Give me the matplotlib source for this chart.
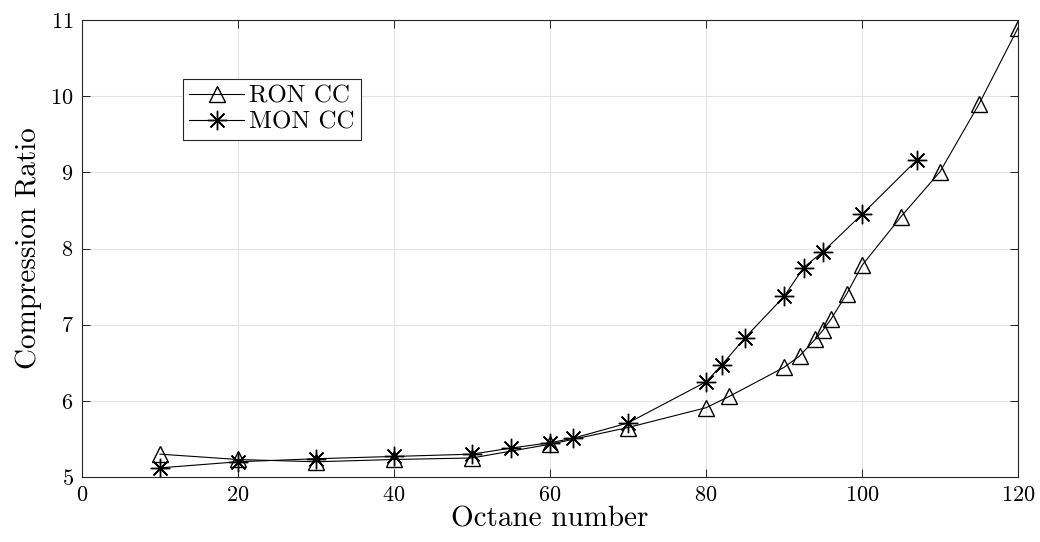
import matplotlib
matplotlib.use('Agg')
import matplotlib.pyplot as plt

plt.rcParams['font.family'] = 'cmr10'
plt.rcParams['mathtext.fontset'] = 'cm'
plt.rcParams['axes.formatter.use_mathtext'] = True

# RON curve
ron_x = [10, 20, 30, 40, 50, 60, 70, 80, 83, 90, 92, 94, 95, 96, 98, 100, 105, 110, 115, 120]
ron_y = [5.30, 5.23, 5.20, 5.23, 5.25, 5.43, 5.65, 5.91, 6.06, 6.44, 6.59, 6.81, 6.93, 7.07, 7.40, 7.78, 8.42, 9.01, 9.90, 10.90]

# MON curve
mon_x = [10, 20, 30, 40, 50, 55, 60, 63, 70, 80, 82, 85, 90, 92.5, 95, 100, 107]
mon_y = [5.12, 5.20, 5.24, 5.27, 5.30, 5.38, 5.45, 5.51, 5.71, 6.25, 6.47, 6.83, 7.37, 7.75, 7.96, 8.45, 9.16]

fig = plt.figure(figsize=(10.4, 5.42), dpi=100)
ax = fig.add_axes([0.0788, 0.1199, 0.9002, 0.8432])

ax.plot(ron_x, ron_y, color='k', linewidth=0.8, marker='^', markersize=12,
        markerfacecolor='none', markeredgewidth=1.0, label='RON CC')
ax.plot(mon_x, mon_y, color='k', linewidth=0.8, marker=(8, 2, 0), markersize=14,
        markeredgewidth=1.0, label='MON CC')

ax.set_xlim(0, 120)
ax.set_ylim(5, 11)
ax.set_xticks(range(0, 121, 20))
ax.set_yticks(range(5, 12))
ax.grid(True, color='#e3e3e3', linewidth=0.8)
ax.set_axisbelow(True)
ax.tick_params(direction='in', top=True, right=True, labelsize=16, length=6, width=0.6, pad=6)
for s in ax.spines.values():
    s.set_linewidth(0.8)
    s.set_color('#262626')

ax.set_xlabel('Octane number', fontsize=21, labelpad=1)
ax.set_ylabel('Compression Ratio', fontsize=21, labelpad=6)

leg = ax.legend(loc='upper left', bbox_to_anchor=(0.108, 0.871), fontsize=18,
                fancybox=False, edgecolor='#262626', framealpha=1,
                handlelength=2.2, handletextpad=0.2, borderpad=0.25,
                labelspacing=0.15, borderaxespad=0)
leg.get_frame().set_linewidth(0.8)

fig.savefig('out.png', dpi=100)
